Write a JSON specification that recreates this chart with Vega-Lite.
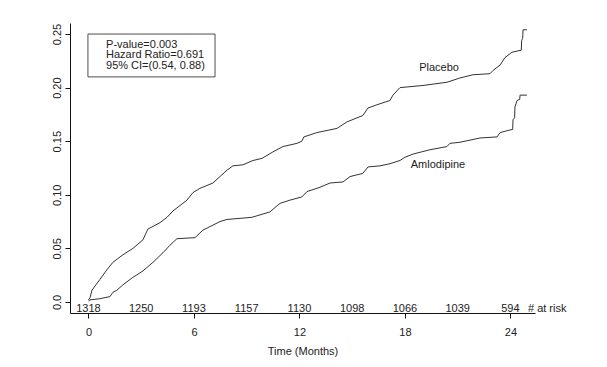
{
  "$schema": "https://vega.github.io/schema/vega-lite/v6.json",
  "width": 465,
  "height": 290,
  "autosize": {"type": "none"},
  "padding": {"left": 70, "top": 23, "right": 72, "bottom": 54},
  "background": "white",
  "config": {
    "view": {"stroke": null},
    "font": "Liberation Sans",
    "axis": {"grid": false, "domainColor": "#111", "tickColor": "#111", "labelColor": "#222", "titleColor": "#222", "labelFont": "Liberation Sans", "titleFont": "Liberation Sans", "labelFontSize": 11, "titleFontSize": 11, "titleFontWeight": "normal"}
  },
  "datasets": {
    "km": [
      {"time": 0, "inc": 0.002, "arm": "Placebo"},
      {"time": 0.09, "inc": 0.004, "arm": "Placebo"},
      {"time": 0.2, "inc": 0.011, "arm": "Placebo"},
      {"time": 0.65, "inc": 0.021, "arm": "Placebo"},
      {"time": 1.05, "inc": 0.030, "arm": "Placebo"},
      {"time": 1.39, "inc": 0.037, "arm": "Placebo"},
      {"time": 1.96, "inc": 0.044, "arm": "Placebo"},
      {"time": 2.53, "inc": 0.050, "arm": "Placebo"},
      {"time": 3.10, "inc": 0.058, "arm": "Placebo"},
      {"time": 3.38, "inc": 0.068, "arm": "Placebo"},
      {"time": 4.07, "inc": 0.074, "arm": "Placebo"},
      {"time": 4.47, "inc": 0.079, "arm": "Placebo"},
      {"time": 4.81, "inc": 0.085, "arm": "Placebo"},
      {"time": 5.21, "inc": 0.090, "arm": "Placebo"},
      {"time": 5.60, "inc": 0.095, "arm": "Placebo"},
      {"time": 5.94, "inc": 0.102, "arm": "Placebo"},
      {"time": 6.34, "inc": 0.106, "arm": "Placebo"},
      {"time": 7.08, "inc": 0.111, "arm": "Placebo"},
      {"time": 7.88, "inc": 0.123, "arm": "Placebo"},
      {"time": 8.22, "inc": 0.127, "arm": "Placebo"},
      {"time": 8.79, "inc": 0.128, "arm": "Placebo"},
      {"time": 9.36, "inc": 0.132, "arm": "Placebo"},
      {"time": 9.87, "inc": 0.134, "arm": "Placebo"},
      {"time": 10.49, "inc": 0.140, "arm": "Placebo"},
      {"time": 11.06, "inc": 0.145, "arm": "Placebo"},
      {"time": 11.86, "inc": 0.148, "arm": "Placebo"},
      {"time": 12.14, "inc": 0.150, "arm": "Placebo"},
      {"time": 12.25, "inc": 0.154, "arm": "Placebo"},
      {"time": 12.99, "inc": 0.158, "arm": "Placebo"},
      {"time": 14.14, "inc": 0.162, "arm": "Placebo"},
      {"time": 14.70, "inc": 0.168, "arm": "Placebo"},
      {"time": 15.61, "inc": 0.174, "arm": "Placebo"},
      {"time": 15.90, "inc": 0.181, "arm": "Placebo"},
      {"time": 16.41, "inc": 0.184, "arm": "Placebo"},
      {"time": 17.15, "inc": 0.188, "arm": "Placebo"},
      {"time": 17.32, "inc": 0.193, "arm": "Placebo"},
      {"time": 17.72, "inc": 0.200, "arm": "Placebo"},
      {"time": 19.03, "inc": 0.202, "arm": "Placebo"},
      {"time": 20.39, "inc": 0.205, "arm": "Placebo"},
      {"time": 21.13, "inc": 0.209, "arm": "Placebo"},
      {"time": 21.87, "inc": 0.212, "arm": "Placebo"},
      {"time": 22.84, "inc": 0.213, "arm": "Placebo"},
      {"time": 23.01, "inc": 0.216, "arm": "Placebo"},
      {"time": 23.41, "inc": 0.221, "arm": "Placebo"},
      {"time": 23.69, "inc": 0.228, "arm": "Placebo"},
      {"time": 24.09, "inc": 0.233, "arm": "Placebo"},
      {"time": 24.62, "inc": 0.235, "arm": "Placebo"},
      {"time": 24.64, "inc": 0.244, "arm": "Placebo"},
      {"time": 24.70, "inc": 0.246, "arm": "Placebo"},
      {"time": 24.72, "inc": 0.254, "arm": "Placebo"},
      {"time": 24.94, "inc": 0.254, "arm": "Placebo"},
      {"time": 0, "inc": 0.001, "arm": "Amlodipine"},
      {"time": 0.09, "inc": 0.002, "arm": "Amlodipine"},
      {"time": 0.65, "inc": 0.003, "arm": "Amlodipine"},
      {"time": 1.22, "inc": 0.005, "arm": "Amlodipine"},
      {"time": 1.39, "inc": 0.009, "arm": "Amlodipine"},
      {"time": 1.62, "inc": 0.011, "arm": "Amlodipine"},
      {"time": 1.96, "inc": 0.016, "arm": "Amlodipine"},
      {"time": 2.53, "inc": 0.023, "arm": "Amlodipine"},
      {"time": 3.10, "inc": 0.029, "arm": "Amlodipine"},
      {"time": 3.67, "inc": 0.037, "arm": "Amlodipine"},
      {"time": 4.24, "inc": 0.046, "arm": "Amlodipine"},
      {"time": 4.64, "inc": 0.053, "arm": "Amlodipine"},
      {"time": 5.03, "inc": 0.059, "arm": "Amlodipine"},
      {"time": 6.06, "inc": 0.060, "arm": "Amlodipine"},
      {"time": 6.51, "inc": 0.067, "arm": "Amlodipine"},
      {"time": 7.48, "inc": 0.075, "arm": "Amlodipine"},
      {"time": 7.88, "inc": 0.077, "arm": "Amlodipine"},
      {"time": 8.62, "inc": 0.078, "arm": "Amlodipine"},
      {"time": 9.30, "inc": 0.079, "arm": "Amlodipine"},
      {"time": 10.32, "inc": 0.084, "arm": "Amlodipine"},
      {"time": 10.89, "inc": 0.092, "arm": "Amlodipine"},
      {"time": 11.46, "inc": 0.095, "arm": "Amlodipine"},
      {"time": 12.14, "inc": 0.098, "arm": "Amlodipine"},
      {"time": 12.43, "inc": 0.103, "arm": "Amlodipine"},
      {"time": 13.17, "inc": 0.107, "arm": "Amlodipine"},
      {"time": 13.74, "inc": 0.111, "arm": "Amlodipine"},
      {"time": 14.48, "inc": 0.112, "arm": "Amlodipine"},
      {"time": 14.88, "inc": 0.117, "arm": "Amlodipine"},
      {"time": 15.61, "inc": 0.120, "arm": "Amlodipine"},
      {"time": 15.90, "inc": 0.126, "arm": "Amlodipine"},
      {"time": 16.58, "inc": 0.127, "arm": "Amlodipine"},
      {"time": 17.15, "inc": 0.129, "arm": "Amlodipine"},
      {"time": 17.72, "inc": 0.132, "arm": "Amlodipine"},
      {"time": 18.00, "inc": 0.135, "arm": "Amlodipine"},
      {"time": 18.46, "inc": 0.138, "arm": "Amlodipine"},
      {"time": 19.42, "inc": 0.142, "arm": "Amlodipine"},
      {"time": 20.39, "inc": 0.145, "arm": "Amlodipine"},
      {"time": 20.56, "inc": 0.148, "arm": "Amlodipine"},
      {"time": 21.13, "inc": 0.149, "arm": "Amlodipine"},
      {"time": 22.27, "inc": 0.153, "arm": "Amlodipine"},
      {"time": 23.24, "inc": 0.154, "arm": "Amlodipine"},
      {"time": 23.41, "inc": 0.158, "arm": "Amlodipine"},
      {"time": 23.86, "inc": 0.160, "arm": "Amlodipine"},
      {"time": 24.13, "inc": 0.161, "arm": "Amlodipine"},
      {"time": 24.15, "inc": 0.170, "arm": "Amlodipine"},
      {"time": 24.24, "inc": 0.172, "arm": "Amlodipine"},
      {"time": 24.26, "inc": 0.182, "arm": "Amlodipine"},
      {"time": 24.38, "inc": 0.188, "arm": "Amlodipine"},
      {"time": 24.53, "inc": 0.189, "arm": "Amlodipine"},
      {"time": 24.55, "inc": 0.193, "arm": "Amlodipine"},
      {"time": 24.94, "inc": 0.193, "arm": "Amlodipine"}
    ],
    "atrisk": [
      {"time": 0, "n": "1318"},
      {"time": 3, "n": "1250"},
      {"time": 6, "n": "1193"},
      {"time": 9, "n": "1157"},
      {"time": 12, "n": "1130"},
      {"time": 15, "n": "1098"},
      {"time": 18, "n": "1066"},
      {"time": 21, "n": "1039"},
      {"time": 24, "n": "594"}
    ],
    "labels": [
      {"time": 19.94, "inc": 0.218, "label": "Placebo"},
      {"time": 19.88, "inc": 0.128, "label": "Amlodipine"}
    ]
  },
  "layer": [
    {
      "data": {"name": "km"},
      "mark": {"type": "line", "interpolate": "linear", "strokeWidth": 1, "color": "#333"},
      "encoding": {
        "x": {"field": "time", "type": "quantitative", "scale": {"domain": [-1.05, 25.4], "nice": false, "zero": false},
              "axis": {"values": [0, 6, 12, 18, 24], "title": "Time (Months)", "tickSize": 5, "labelPadding": 8, "titlePadding": 8, "labelFlush": false}},
        "y": {"field": "inc", "type": "quantitative", "scale": {"domain": [-0.0103, 0.2603], "nice": false, "zero": false},
              "axis": {"values": [0, 0.05, 0.1, 0.15, 0.2, 0.25], "title": null, "tickSize": 5, "labelAngle": -90, "labelPadding": 3, "labelFlush": false,
                       "labelExpr": "datum.value == 0 ? '0.0' : format(datum.value, '.2f')"}},
        "detail": {"field": "arm"}
      }
    },
    {
      "data": {"name": "atrisk"},
      "mark": {"type": "text", "fontSize": 11, "align": "center", "baseline": "alphabetic", "color": "#222"},
      "encoding": {
        "x": {"field": "time", "type": "quantitative"},
        "y": {"datum": -0.0093},
        "text": {"field": "n"}
      }
    },
    {
      "data": {"values": [{}]},
      "mark": {"type": "text", "fontSize": 11, "align": "left", "baseline": "alphabetic", "color": "#222", "text": "# at risk"},
      "encoding": {
        "x": {"datum": 25.0},
        "y": {"datum": -0.0093}
      }
    },
    {
      "data": {"values": [{}]},
      "mark": {"type": "rect", "fill": "white", "stroke": "#222", "strokeWidth": 0.8},
      "encoding": {
        "x": {"datum": -0.03},
        "x2": {"datum": 7.2},
        "y": {"datum": 0.250},
        "y2": {"datum": 0.210}
      }
    },
    {
      "data": {"values": [{}]},
      "mark": {"type": "text", "fontSize": 11, "align": "left", "baseline": "top", "lineHeight": 10.5, "color": "#222",
               "text": ["P-value=0.003", "Hazard Ratio=0.691", "95% CI=(0.54, 0.88)"]},
      "encoding": {
        "x": {"datum": 1.0},
        "y": {"datum": 0.2455}
      }
    },
    {
      "data": {"name": "labels"},
      "mark": {"type": "text", "fontSize": 11, "align": "center", "baseline": "middle", "color": "#222"},
      "encoding": {
        "x": {"field": "time", "type": "quantitative"},
        "y": {"field": "inc", "type": "quantitative"},
        "text": {"field": "label"}
      }
    }
  ]
}
